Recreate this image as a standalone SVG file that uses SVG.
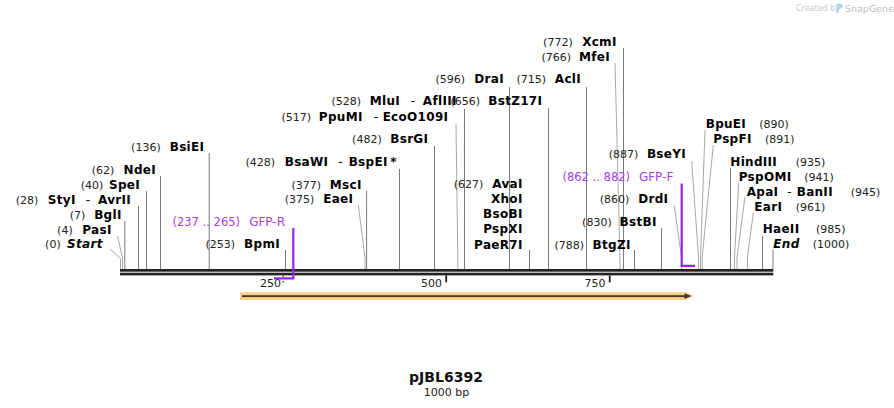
<svg xmlns="http://www.w3.org/2000/svg" width="894" height="408" viewBox="0 0 894 408">
<style>
text{font-family:"DejaVu Sans","Verdana","Liberation Sans",sans-serif}
.num{font-size:11px;fill:#222}
.nm{font-size:12px;font-weight:bold;fill:#000;letter-spacing:0.3px}
.it{font-style:italic}
.dash{font-size:12px;fill:#000}
.pn{font-size:11.5px;fill:#a63ef2}
.pl{font-size:12px;fill:#a63ef2}
.e{text-anchor:end}
.m{text-anchor:middle}
.cut{stroke:#7a7a7a;stroke-width:1;fill:none}
.sl{stroke:#a8a8a8;stroke-width:1;fill:none}
.prim{stroke:#9a22ee;stroke-width:2.2;fill:none}
.tick{font-size:11px;fill:#222}
</style>
<rect width="894" height="408" fill="#fff"/>

<!-- watermark -->
<g id="watermark">
<text x="796" y="11" style="font-size:8px;fill:#c9c9c9;font-family:'DejaVu Sans',sans-serif">Created by</text>
<path d="M836.5 3.5 h3.5 a2.6 2.6 0 0 1 0 5.2 h-1.3 v4.3 h-2.2 z" fill="#a9d6f0"/>
<text x="845" y="11.5" style="font-size:9.5px;fill:#bdbdbd">SnapGene</text>
</g>

<!-- backbone -->
<g id="backbone">
<rect x="120" y="269" width="653.3" height="2.7" fill="#222"/>
<rect x="120" y="272.7" width="653.3" height="2.7" fill="#222"/>
<rect x="282.6" y="275.6" width="1.2" height="1.4" fill="#222"/>
<rect x="282.6" y="281" width="1.2" height="1.4" fill="#222"/>
<rect x="445.3" y="275.4" width="1.8" height="7" fill="#222"/>
<rect x="608.8" y="275.4" width="1.8" height="7" fill="#222"/>
<text class="tick e" x="281" y="286.5">250</text>
<text class="tick e" x="442" y="286.5">500</text>
<text class="tick e" x="605.5" y="286.5">750</text>
</g>

<!-- feature arrow -->
<g id="feature">
<path d="M240 292.3 H686 L694 296.1 L686 300 H240 Z" fill="#fcd188"/>
<rect x="242" y="295.2" width="443" height="1.9" fill="#4a3b22"/>
<path d="M684.5 293.2 L691.5 296.1 L684.5 299 Z" fill="#4a3b22"/>
</g>

<!-- connectors -->
<g id="connectors">
<polyline class="sl" points="110,249 120.5,258.5 120.5,269"/>
<polyline class="sl" points="117.5,236 122.5,258 122.5,269"/>
<line class="cut" x1="124.8" y1="221" x2="124.8" y2="269"/>
<line class="cut" x1="138.5" y1="206" x2="138.5" y2="269"/>
<line class="cut" x1="146.5" y1="191" x2="146.5" y2="269"/>
<line class="cut" x1="160.5" y1="176" x2="160.5" y2="269"/>
<line class="cut" x1="209.2" y1="153" x2="209.2" y2="269"/>
<line class="cut" x1="285.5" y1="250" x2="285.5" y2="269"/>
<polyline class="sl" points="358.3,205 365,257 365,269"/>
<line class="cut" x1="366.6" y1="191" x2="366.6" y2="269"/>
<line class="cut" x1="399.5" y1="169" x2="399.5" y2="269"/>
<line class="cut" x1="434.5" y1="146" x2="434.5" y2="269"/>
<polyline class="sl" points="456,124 457.8,258 457.8,269"/>
<line class="cut" x1="464.5" y1="109" x2="464.5" y2="269"/>
<line class="cut" x1="509.5" y1="87" x2="509.5" y2="269"/>
<line class="cut" x1="529.5" y1="250" x2="529.5" y2="269"/>
<line class="cut" x1="548.5" y1="108" x2="548.5" y2="269"/>
<line class="cut" x1="586.5" y1="87" x2="586.5" y2="269"/>
<polyline class="sl" points="615,63 620,258 620,269"/>
<line class="cut" x1="623.5" y1="48" x2="623.5" y2="269"/>
<line class="cut" x1="634.5" y1="250" x2="634.5" y2="269"/>
<line class="cut" x1="661.5" y1="228" x2="661.5" y2="269"/>
<polyline class="sl" points="674.3,206 681.5,257 681.5,269"/>
<polyline class="sl" points="691.7,161 698.5,257 698.5,269"/>
<polyline class="sl" points="705,130 700.5,257 700.5,269"/>
<polyline class="sl" points="713.3,145 702.2,257 702.2,269"/>
<line class="cut" x1="730.5" y1="168" x2="730.5" y2="269"/>
<polyline class="sl" points="738.7,183 734.5,257 734.5,269"/>
<polyline class="sl" points="745,197 737,257 737,269"/>
<polyline class="sl" points="753.3,213 747.5,257 747.5,269"/>
<line class="cut" x1="762.5" y1="236" x2="762.5" y2="269"/>
<line class="cut" x1="773" y1="250" x2="773" y2="269"/>
<polyline class="prim" points="274,278.4 293.3,278.4 293.3,228"/>
<polyline class="prim" points="681.7,183.5 681.7,265.8 695,265.8"/>
</g>

<!-- nodes: enzyme and primer labels -->
<g id="n-start"><text class="num e" x="60.7" y="248">(0)</text><text class="nm it e" x="102.7" y="248">Start</text></g>
<g id="n-pasi"><text class="num e" x="72.7" y="233.5">(4)</text><text class="nm e" x="111.7" y="233.5">PasI</text></g>
<g id="n-bgli"><text class="num e" x="85.3" y="218.8">(7)</text><text class="nm e" x="121.7" y="218.8">BglI</text></g>
<g id="n-styi"><text class="num e" x="38.3" y="203.8">(28)</text><text class="nm e" x="75.7" y="203.8">StyI</text><text class="dash m" x="88" y="203.8">-</text><text class="nm e" x="131" y="203.8">AvrII</text></g>
<g id="n-spei"><text class="num e" x="103.3" y="188.8">(40)</text><text class="nm e" x="140" y="188.8">SpeI</text></g>
<g id="n-ndei"><text class="num e" x="114.3" y="173.8">(62)</text><text class="nm e" x="156" y="173.8">NdeI</text></g>
<g id="n-bsiei"><text class="num e" x="160.7" y="150.5">(136)</text><text class="nm e" x="204.3" y="150.5">BsiEI</text></g>
<g id="n-gfpr"><text class="pn e" x="240" y="225.8">(237 .. 265)</text><text class="pl e" x="285" y="225.8">GFP-R</text></g>
<g id="n-bpmi"><text class="num e" x="235" y="248">(253)</text><text class="nm e" x="280" y="248">BpmI</text></g>
<g id="n-eaei"><text class="num e" x="314.3" y="203.3">(375)</text><text class="nm e" x="353.3" y="203.3">EaeI</text></g>
<g id="n-msci"><text class="num e" x="321" y="188.8">(377)</text><text class="nm e" x="361.7" y="188.8">MscI</text></g>
<g id="n-bsawi"><text class="num e" x="275" y="165.8">(428)</text><text class="nm e" x="328.3" y="165.8">BsaWI</text><text class="dash m" x="340.5" y="165.8">-</text><text class="nm e" x="387.7" y="165.8">BspEI</text><text class="nm m" x="393.5" y="165.8">*</text></g>
<g id="n-bsrgi"><text class="num e" x="381.7" y="143.3">(482)</text><text class="nm e" x="428.3" y="143.3">BsrGI</text></g>
<g id="n-ppumi"><text class="num e" x="311" y="120.7">(517)</text><text class="nm e" x="362.7" y="120.7">PpuMI</text><text class="dash m" x="376" y="120.7">-</text><text class="nm e" x="448.3" y="120.7">EcoO109I</text></g>
<g id="n-mlui"><text class="num e" x="361" y="105">(528)</text><text class="nm e" x="400" y="105">MluI</text><text class="dash m" x="412.7" y="105">-</text><text class="nm e" x="456.7" y="105">AflIII</text></g>
<g id="n-drai"><text class="num e" x="465" y="83.3">(596)</text><text class="nm e" x="504" y="83.3">DraI</text></g>
<g id="n-avai"><text class="num e" x="483.3" y="188.3">(627)</text><text class="nm e" x="522.7" y="188.3">AvaI</text><text class="nm e" x="522.7" y="203.3">XhoI</text><text class="nm e" x="522.7" y="218.3">BsoBI</text><text class="nm e" x="522.7" y="233.3">PspXI</text><text class="nm e" x="522.7" y="248.5">PaeR7I</text></g>
<g id="n-bstz17i"><text class="num e" x="480" y="105">(656)</text><text class="nm e" x="542.3" y="105">BstZ17I</text></g>
<g id="n-acli"><text class="num e" x="546" y="83.3">(715)</text><text class="nm e" x="581" y="83.3">AclI</text></g>
<g id="n-mfei"><text class="num e" x="571" y="60.7">(766)</text><text class="nm e" x="610" y="60.7">MfeI</text></g>
<g id="n-xcmi"><text class="num e" x="572.7" y="46">(772)</text><text class="nm e" x="616.7" y="46">XcmI</text></g>
<g id="n-btgzi"><text class="num e" x="584" y="248.5">(788)</text><text class="nm e" x="630.7" y="248.5">BtgZI</text></g>
<g id="n-bstbi"><text class="num e" x="611.7" y="226">(830)</text><text class="nm e" x="656.7" y="226">BstBI</text></g>
<g id="n-drdi"><text class="num e" x="629.3" y="203.3">(860)</text><text class="nm e" x="668.3" y="203.3">DrdI</text></g>
<g id="n-gfpf"><text class="pn e" x="630" y="180.7">(862 .. 882)</text><text class="pl e" x="673.3" y="180.7">GFP-F</text></g>
<g id="n-bseyi"><text class="num e" x="638.3" y="158.3">(887)</text><text class="nm e" x="686" y="158.3">BseYI</text></g>
<g id="n-bpuei"><text class="nm" x="705.7" y="128.3">BpuEI</text><text class="num" x="759.3" y="128.3">(890)</text></g>
<g id="n-pspfi"><text class="nm" x="713.3" y="143.3">PspFI</text><text class="num" x="765" y="143.3">(891)</text></g>
<g id="n-hindiii"><text class="nm" x="730.3" y="165.7">HindIII</text><text class="num" x="795.7" y="165.7">(935)</text></g>
<g id="n-pspomi"><text class="nm" x="738.7" y="180.7">PspOMI</text><text class="num" x="804.3" y="180.7">(941)</text></g>
<g id="n-apai"><text class="nm" x="746.7" y="195.7">ApaI</text><text class="dash m" x="789.3" y="195.7">-</text><text class="nm" x="796.7" y="195.7">BanII</text><text class="num" x="850.7" y="195.7">(945)</text></g>
<g id="n-eari"><text class="nm" x="754.3" y="211">EarI</text><text class="num" x="795.7" y="211">(961)</text></g>
<g id="n-haeii"><text class="nm" x="762.7" y="233.3">HaeII</text><text class="num" x="816" y="233.3">(985)</text></g>
<g id="n-end"><text class="nm it" x="773.3" y="248.3">End</text><text class="num" x="812.7" y="248.3">(1000)</text></g>

<!-- title -->
<g id="title">
<text x="446" y="382" text-anchor="middle" style="font-size:14px;font-weight:bold;fill:#111">pJBL6392</text>
<text x="446.5" y="396" text-anchor="middle" style="font-size:11px;fill:#222">1000 bp</text>
</g>
</svg>
